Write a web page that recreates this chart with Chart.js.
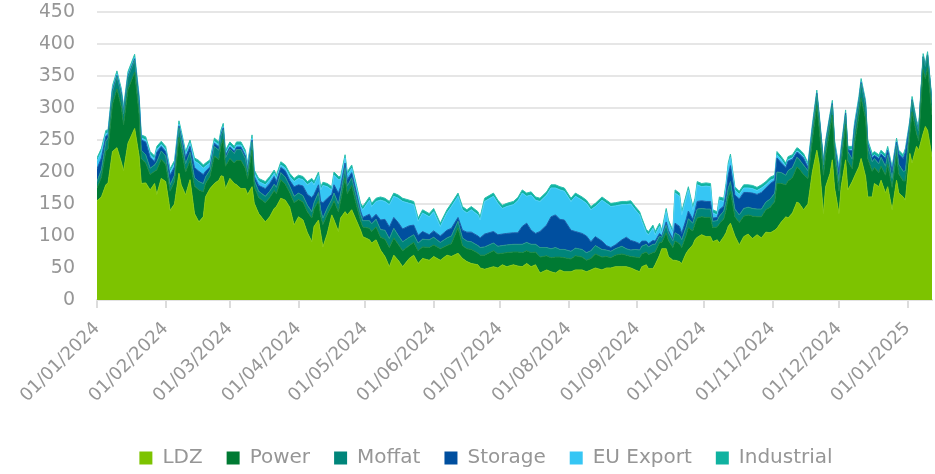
<!DOCTYPE html>
<html>
<head>
<meta charset="utf-8">
<script src="https://cdn.jsdelivr.net/npm/chart.js@4.4.1/dist/chart.umd.min.js"></script>
<style>
  html, body { margin: 0; padding: 0; background: #ffffff; }
  #wrap { width: 935px; height: 474px; }
</style>
</head>
<body>
<div id="wrap"><canvas id="c" width="935" height="474"></canvas></div>
<script>
// Day offsets from 01/01/2024
const days = [0,2,4,5,7,9,11,12,14,17,19,20,22,24,26,27,29,31,33,35,37,38,40,42,44,46,48,49,51,53,55,56,57,58,60,62,63,65,67,68,70,71,73,76,78,80,81,83,85,87,89,91,93,95,97,98,100,101,102,104,106,107,109,110,112,113,115,117,119,120,123,124,126,128,130,132,134,136,138,141,143,145,147,150,152,155,158,160,163,165,167,169,172,173,175,179,181,183,185,188,190,192,194,196,198,200,203,205,207,209,211,214,216,219,221,223,225,228,230,232,234,237,239,241,243,245,246,248,249,251,252,254,255,257,258,260,261,263,264,266,267,269,270,271,273,275,277,278,280,281,283,284,285,286,288,290,292,294,296,298,300,302,304,306,307,309,311,312,314,316,317,319,321,323,325,326,328,329,331,332,333,335,336,338,339,341,342,344,345,347,348,350,351,353,354,356,357,359,361,362,364,365,367,368,370,371,373,374,375,377];

const ldz = [155,161,180,183,232,238,215,202,245,268,225,182,183,172,182,165,190,185,140,150,198,180,164,188,135,122,130,161,174,182,187,194,193,174,190,182,180,174,174,165,177,151,135,122,130,143,146,159,156,145,117,130,125,105,91,115,125,104,83,104,133,125,107,128,138,133,141,125,109,99,94,89,94,78,68,52,70,62,52,65,70,57,65,62,68,62,70,68,73,65,60,57,55,50,48,52,50,55,52,55,53,52,57,52,55,42,47,44,42,47,44,44,47,47,44,47,50,47,50,50,52,52,52,50,47,44,52,55,49,49,55,70,80,80,68,62,62,60,57,73,78,86,94,98,102,99,99,91,94,89,99,105,115,120,100,86,99,103,96,102,97,106,105,109,112,122,130,128,136,153,151,141,150,200,234,214,135,177,198,219,175,135,177,219,172,185,193,208,221,193,161,161,182,177,187,167,177,141,187,167,161,156,229,214,240,234,260,271,265,224];

const power = [20,31,53,53,74,92,86,72,84,88,65,39,31,24,19,38,30,27,30,35,56,57,36,30,43,50,39,21,19,43,32,47,58,35,31,32,38,44,32,25,57,26,25,30,30,28,20,29,25,23,35,27,28,33,37,27,30,27,35,30,14,30,31,27,53,33,38,25,15,15,18,18,20,20,27,30,27,25,25,20,20,20,18,20,18,18,15,20,40,20,20,22,18,20,22,25,22,18,22,20,22,22,20,22,20,25,22,22,25,20,22,20,22,20,18,18,22,20,18,16,18,20,18,18,20,22,20,20,22,25,20,20,10,25,25,20,30,28,25,28,35,22,25,30,28,30,30,22,20,30,28,35,45,50,30,35,32,30,35,28,33,35,40,45,70,60,50,58,55,55,54,55,40,50,70,56,60,50,70,70,50,35,35,55,45,20,50,80,95,90,60,40,25,22,22,28,35,35,40,30,25,30,30,80,20,15,100,75,98,65];

const moffat = [10,12,15,17,19,19,19,17,19,19,15,13,13,10,10,13,13,13,10,10,15,15,13,13,13,13,13,10,10,15,15,15,15,13,15,15,17,17,15,10,13,10,10,10,10,10,10,11,11,10,10,10,10,10,10,10,13,10,10,10,10,12,12,12,15,12,12,12,10,10,12,12,12,12,14,14,15,14,14,13,12,12,12,12,12,10,12,12,10,12,12,12,12,12,13,12,12,12,12,12,12,13,13,13,12,15,13,14,15,12,13,12,12,12,12,12,13,12,10,10,10,12,10,10,12,12,12,12,12,13,12,10,8,12,12,10,13,13,12,13,14,12,12,14,13,13,13,10,10,12,12,14,15,15,12,12,12,12,12,12,12,12,13,13,18,17,15,16,16,15,15,15,12,15,17,17,16,15,16,16,15,15,15,15,15,15,18,20,22,20,18,15,14,14,14,14,15,14,15,15,15,16,15,18,15,15,20,19,20,18];

const storage = [20,18,8,5,3,2,3,4,2,2,8,16,20,17,5,15,7,7,15,13,3,5,10,9,16,16,14,9,5,5,5,3,3,4,3,3,4,4,4,5,3,6,9,12,12,12,9,8,10,9,15,13,15,17,22,13,12,13,24,15,8,13,17,10,8,10,8,8,5,5,10,8,8,15,17,18,17,20,20,18,15,12,12,8,10,10,12,12,6,12,14,15,15,15,20,18,18,18,18,18,18,28,30,22,17,25,35,50,51,47,46,33,26,25,26,14,14,13,7,6,6,10,18,15,12,10,8,5,5,6,5,4,2,5,4,3,15,14,10,12,12,6,8,12,12,12,12,5,5,10,8,12,20,25,22,25,25,23,24,23,26,22,24,20,22,15,12,15,13,8,9,11,5,3,2,2,3,3,3,2,3,15,5,3,3,13,8,3,2,3,5,6,5,8,5,12,7,12,5,16,20,29,1,1,1,2,0,0,0,0];

const euExport = [12,10,4,3,2,2,2,2,2,2,2,3,3,4,4,4,3,3,5,5,3,3,4,5,10,12,10,8,6,3,3,2,2,3,3,3,3,3,4,4,3,5,6,6,6,5,5,4,4,6,8,10,10,15,25,15,15,18,27,18,7,15,21,11,8,7,7,7,7,12,22,19,20,31,28,35,33,38,43,35,32,22,29,28,30,15,27,34,33,32,30,35,33,28,51,55,49,40,42,44,50,52,42,55,52,47,47,45,42,46,45,45,55,52,51,50,47,64,66,64,61,55,51,57,50,45,31,13,14,19,10,11,4,16,11,9,47,47,29,33,33,15,15,26,22,24,23,8,4,15,7,11,14,13,8,7,7,7,7,6,7,5,5,3,5,5,2,2,2,2,2,2,2,2,0,0,0,0,0,0,2,3,3,0,0,2,2,2,1,1,1,2,1,1,1,1,1,1,1,1,1,1,1,0,0,0,0,0,0,0];

const industrial = [5,5,5,5,5,5,5,5,5,5,5,5,5,5,5,5,5,5,5,5,5,5,5,5,5,5,5,5,5,5,5,5,5,5,5,5,5,5,5,5,5,5,5,5,5,5,5,5,5,5,5,5,5,5,5,5,5,5,5,5,5,5,5,5,5,5,5,5,5,5,5,5,5,5,5,5,5,5,5,5,5,5,5,5,5,5,5,5,5,5,5,5,5,5,5,5,5,5,5,5,5,5,5,5,5,5,5,5,5,5,5,5,5,5,5,5,5,5,5,5,5,5,5,5,5,5,5,5,5,5,5,5,5,5,5,5,5,5,5,5,5,5,5,5,5,5,5,5,5,5,5,5,5,5,5,5,5,5,5,5,5,5,5,5,5,5,5,5,5,5,5,5,5,5,5,5,5,5,5,5,5,5,5,5,5,5,5,5,5,5,5,5,5,5,5,5,5,5,5,5,5,5,5,5,5,5,5,5,5,5,5,5];

const seriesNames = ['LDZ','Power','Moffat','Storage','EU Export','Industrial'];
const tickDays = [0,31,60,91,121,152,182,213,244,274,305,335,366];
const tickLabels = ['01/01/2024','01/02/2024','01/03/2024','01/04/2024','01/05/2024','01/06/2024','01/07/2024','01/08/2024','01/09/2024','01/10/2024','01/11/2024','01/12/2024','01/01/2025'];
const yTicks = [0,50,100,150,200,250,300,350,400,450];

const colors = ['#7dc300','#007a33','#00857a','#004f9f','#36c6f4','#10b2a0'];
const borders = ['#86c812','#1b8a45','#27978c','#1a5fab','#4fcff6','#2cc0ae'];
const values = [ldz, power, moffat, storage, euExport, industrial];

const FONT = 'DejaVu Sans';
const GREY = '#969696';

const datasets = values.map((arr, k) => ({
  label: seriesNames[k],
  data: arr.map((v, i) => ({ x: days[i], y: v })),
  backgroundColor: colors[k],
  borderColor: borders[k],
  borderWidth: 1,
  fill: k === 0 ? 'origin' : '-1',
  pointRadius: 0,
  tension: 0
}));

new Chart(document.getElementById('c'), {
  type: 'line',
  data: { datasets },
  options: {
    responsive: false,
    animation: false,
    layout: { padding: { top: 12, right: 3, left: 40, bottom: -4 } },
    plugins: {
      tooltip: { enabled: false },
      legend: {
        position: 'bottom',
        labels: {
          boxWidth: 13, boxHeight: 13, padding: 24,
          color: GREY,
          font: { family: FONT, size: 20 },
          generateLabels: (c) => Chart.defaults.plugins.legend.labels.generateLabels(c)
            .map(l => Object.assign(l, { lineWidth: 0, strokeStyle: l.fillStyle }))
        }
      }
    },
    scales: {
      x: {
        type: 'linear',
        min: 0,
        max: 377,
        grid: { drawOnChartArea: false, drawTicks: true, tickLength: 8, color: '#dcdcdc', lineWidth: 2 },
        border: { display: true, color: '#e3e3e3', width: 2 },
        afterBuildTicks: (axis) => { axis.ticks = tickDays.map(v => ({ value: v })); },
        afterFit: (s) => { s.height = 124; },
        ticks: {
          autoSkip: false, minRotation: 45, maxRotation: 45,
          color: GREY, font: { family: FONT, size: 18 }, padding: 10,
          callback: (v) => { const i = tickDays.indexOf(v); return i >= 0 ? tickLabels[i] : ''; }
        }
      },
      y: {
        stacked: true,
        min: 0,
        max: 450,
        afterBuildTicks: (axis) => { axis.ticks = yTicks.map(v => ({ value: v })); },
        afterFit: (s) => { s.width = 57; },
        grid: { color: '#e6e6e6', lineWidth: 2, drawTicks: true, tickLength: 22, tickColor: 'rgba(0,0,0,0)' },
        border: { display: false },
        ticks: { color: GREY, font: { family: FONT, size: 19 }, padding: 0 }
      }
    }
  }
});
</script>
</body>
</html>
